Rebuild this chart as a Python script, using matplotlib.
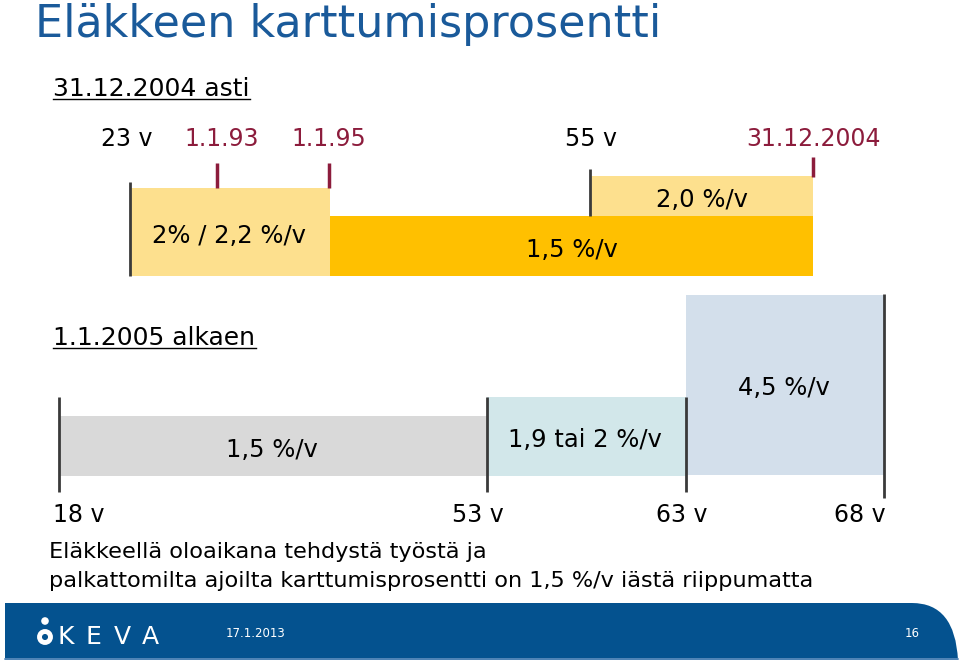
import matplotlib
matplotlib.use("Agg")
import matplotlib.pyplot as plt
from matplotlib.patches import Rectangle, Circle, PathPatch
from matplotlib.path import Path

# diagram units = slide pixels (x right, y down)
title = "Eläkkeen karttumisprosentti"
old_heading = "31.12.2004 asti"
new_heading = "1.1.2005 alkaen"

# --- until 31.12.2004 ---
old_x0 = [130, 330, 590]
old_x1 = [330, 813, 813]
old_top = [188, 216, 176]
old_bottom = [276, 276, 216]
old_colors = ["#fde08e", "#ffc000", "#fde08e"]
old_labels = ["2% / 2,2 %/v", "1,5 %/v", "2,0 %/v"]
old_label_pos = [(229, 243), (572, 257), (702, 207)]

old_marks = ["23 v", "1.1.93", "1.1.95", "55 v", "31.12.2004"]
old_mark_x = [127, 222, 329, 591, 814]
old_mark_red = [False, True, True, False, True]
red_ticks = [(217, 163, 188), (329, 163, 188), (813, 157, 177)]
grey_ticks = [(130, 182, 276), (590, 169, 216)]

# --- from 1.1.2005 ---
ages = ["18 v", "53 v", "63 v", "68 v"]
age_x = [59, 487, 686, 884]
age_label_x = [53, 478, 682, 886]
new_top = [416, 397, 295]
new_bottom = [476, 476, 475]
new_colors = ["#d9d9d9", "#d2e7ea", "#d3dfeb"]
new_labels = ["1,5 %/v", "1,9 tai 2 %/v", "4,5 %/v"]
new_label_pos = [(272, 457), (585, 447), (784, 395)]
new_ticks = [(59, 397, 492), (487, 397, 492), (686, 397, 492), (884, 294, 498)]

note = ["Eläkkeellä oloaikana tehdystä työstä ja",
        "palkattomilta ajoilta karttumisprosentti on 1,5 %/v iästä riippumatta"]

footer_date = "17.1.2013"
page_no = "16"
logo = "KEVA"

red = "#8c1c3c"
dark = "#3a3a3a"
blue = "#1a5a9a"
band = "#04528f"
fnt = "DejaVu Sans"

fig = plt.figure(figsize=(9.6, 6.63), dpi=100)
ax = fig.add_axes([0, 0, 1, 1])
ax.set_xlim(0, 960)
ax.set_ylim(663, 0)
ax.axis("off")

ax.text(35, 37, title, fontsize=32, color=blue, family=fnt, va="baseline", ha="left")

def underlined(x, y, s, size, x_end):
    ax.text(x, y, s, fontsize=size, family=fnt, va="baseline", ha="left", color="black")
    ax.plot([x, x_end], [y + 3, y + 3], color="black", lw=1)

underlined(53, 96, old_heading, 18, 250)

for s, x, is_red in zip(old_marks, old_mark_x, old_mark_red):
    ax.text(x, 146, s, fontsize=17, family=fnt, ha="center", va="baseline",
            color=red if is_red else "black")

for x0, x1, t, b, c in zip(old_x0, old_x1, old_top, old_bottom, old_colors):
    ax.add_patch(Rectangle((x0, t), x1 - x0, b - t, facecolor=c, edgecolor="none"))
for s, (x, y) in zip(old_labels, old_label_pos):
    ax.text(x, y, s, fontsize=17.5, family=fnt, ha="center", va="baseline")
for x, y0, y1 in red_ticks:
    ax.plot([x, x], [y0, y1], color=red, lw=2.5, solid_capstyle="butt")
for x, y0, y1 in grey_ticks:
    ax.plot([x, x], [y0, y1], color=dark, lw=2, solid_capstyle="butt")

underlined(53, 345, new_heading, 18, 256)

for i in range(3):
    ax.add_patch(Rectangle((age_x[i], new_top[i]), age_x[i + 1] - age_x[i],
                           new_bottom[i] - new_top[i], facecolor=new_colors[i], edgecolor="none"))
for s, (x, y) in zip(new_labels, new_label_pos):
    ax.text(x, y, s, fontsize=17.5, family=fnt, ha="center", va="baseline")
for x, y0, y1 in new_ticks:
    ax.plot([x, x], [y0, y1], color=dark, lw=2, solid_capstyle="butt")

for i, (s, x) in enumerate(zip(ages, age_label_x)):
    ha = "left" if i == 0 else ("right" if i == len(ages) - 1 else "center")
    ax.text(x, 522, s, fontsize=17, family=fnt, ha=ha, va="baseline")

for i, line in enumerate(note):
    ax.text(49, 558 + i * 29, line, fontsize=16.1, family=fnt, ha="left", va="baseline")

# footer band with rounded right corner
verts = [(5, 603), (912, 603), (955, 603), (958, 660), (5, 660), (5, 603)]
codes = [Path.MOVETO, Path.LINETO, Path.CURVE3, Path.CURVE3, Path.LINETO, Path.CLOSEPOLY]
ax.add_patch(PathPatch(Path(verts, codes), facecolor=band, edgecolor="none"))
ax.plot([5, 958], [659, 659], color="#5f8fbf", lw=1.2)

# logo
ax.add_patch(Circle((45, 621), 3.8, facecolor="white", edgecolor="none"))
ax.add_patch(Circle((45, 637), 5.5, facecolor="none", edgecolor="white", lw=3.5))
for i, ch in enumerate(logo):
    ax.text(58 + i * 28, 644, ch, fontsize=18, family=fnt,
            color="white", ha="left", va="baseline")
ax.text(226, 637, footer_date, fontsize=8.5, family=fnt, color="white", ha="left", va="baseline")
ax.text(912, 637, page_no, fontsize=8.5, family=fnt, color="white", ha="center", va="baseline")

fig.savefig("out.png", dpi=100)
